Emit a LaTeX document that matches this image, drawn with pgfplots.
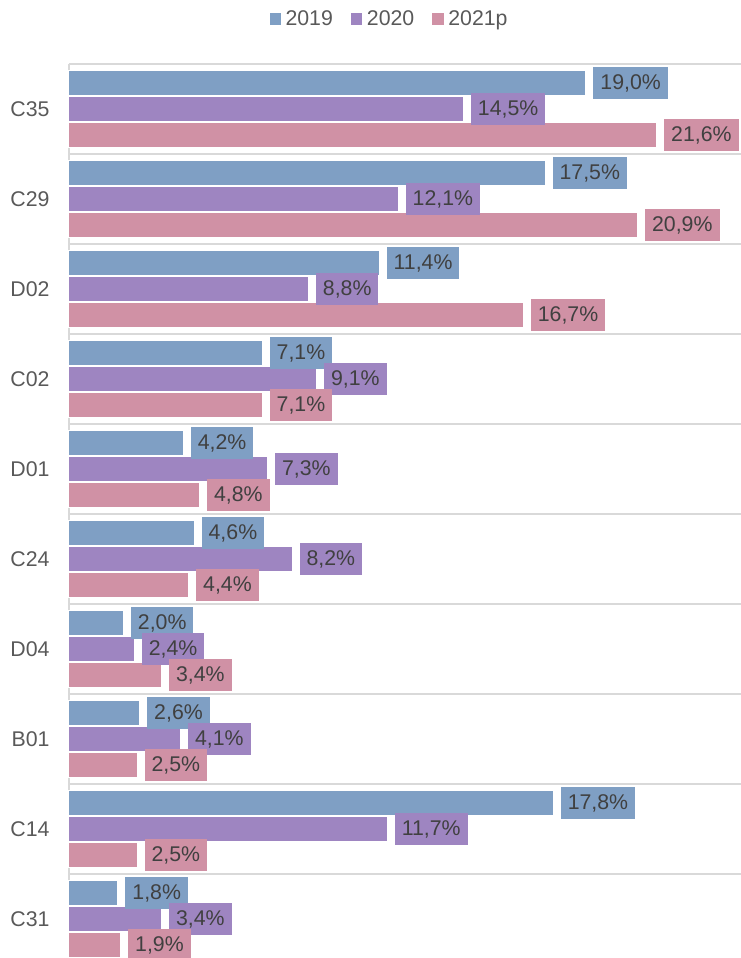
\documentclass[border=0pt]{standalone}
\usepackage{fontspec}
\setmainfont{Liberation Sans}
\usepackage{pgfplots}
\pgfplotsset{compat=1.18}
\definecolor{cA}{RGB}{127,159,196}
\definecolor{cB}{RGB}{158,133,193}
\definecolor{cC}{RGB}{208,145,165}
\definecolor{txt}{RGB}{64,64,64}
\definecolor{lbl}{RGB}{89,89,89}
\definecolor{grd}{RGB}{217,217,217}
\begin{document}
\begin{tikzpicture}
\begin{axis}[
 at={(69pt,0pt)}, anchor=south west,
 scale only axis, width=672pt, height=900pt,
 xmin=0, xmax=24.7, ymin=-0.5, ymax=9.5,
 enlargelimits=false,
 axis x line=none, axis y line*=left,
 y axis line style={draw=grd, line width=1.5pt},
 ytick={0,...,9},
 yticklabels={C31,C14,B01,D04,C24,D01,C02,D02,C29,C35},
 major tick length=0pt,
 yticklabel style={font=\fontsize{21.3}{26}\selectfont, text=lbl, xshift=-16pt},
 minor ytick={-0.5,0.5,...,9.5},
 minor tick length=0pt,
 yminorgrids, minor grid style={draw=grd, line width=1.5pt},
 xbar, bar width=25pt,
 point meta=x,
 nodes near coords={\pgfmathprintnumber[fixed,fixed zerofill,precision=1,use comma]{\pgfplotspointmeta}\%},
 every node near coord/.append style={anchor=west, xshift=7pt, text=txt, font=\fontsize{21.3}{26}\selectfont, inner xsep=7pt, minimum height=32pt},
 /pgf/number format/assume math mode=true,
 legend style={draw=none, fill=none, legend columns=3, at={(rel axis cs:0.477,1.05)}, anchor=center, font=\fontsize{21.3}{26}\selectfont, text=lbl, /tikz/every even column/.append style={column sep=16pt}},
 clip=false,
]
\addplot[fill=cA, draw=white, line width=1pt, bar shift=26pt,
 every node near coord/.append style={fill=cA},
 legend image code/.code={\fill[cA] (0pt,-5.5pt) rectangle (10.5pt,5.5pt); \path (13pt,0pt);}]
 coordinates {(1.8,0) (17.8,1) (2.6,2) (2.0,3) (4.6,4) (4.2,5) (7.1,6) (11.4,7) (17.5,8) (19.0,9)};
\addplot[fill=cB, draw=white, line width=1pt, bar shift=0pt,
 every node near coord/.append style={fill=cB},
 legend image code/.code={\fill[cB] (0pt,-5.5pt) rectangle (10.5pt,5.5pt); \path (13pt,0pt);}]
 coordinates {(3.4,0) (11.7,1) (4.1,2) (2.4,3) (8.2,4) (7.3,5) (9.1,6) (8.8,7) (12.1,8) (14.5,9)};
\addplot[fill=cC, draw=white, line width=1pt, bar shift=-26pt,
 every node near coord/.append style={fill=cC},
 legend image code/.code={\fill[cC] (0pt,-5.5pt) rectangle (10.5pt,5.5pt); \path (13pt,0pt);}]
 coordinates {(1.9,0) (2.5,1) (2.5,2) (3.4,3) (4.4,4) (4.8,5) (7.1,6) (16.7,7) (20.9,8) (21.6,9)};
\legend{2019,2020,2021p}
\end{axis}
\pgfresetboundingbox
\useasboundingbox (0pt,6pt) rectangle (741pt,964pt);
\end{tikzpicture}
\end{document}
